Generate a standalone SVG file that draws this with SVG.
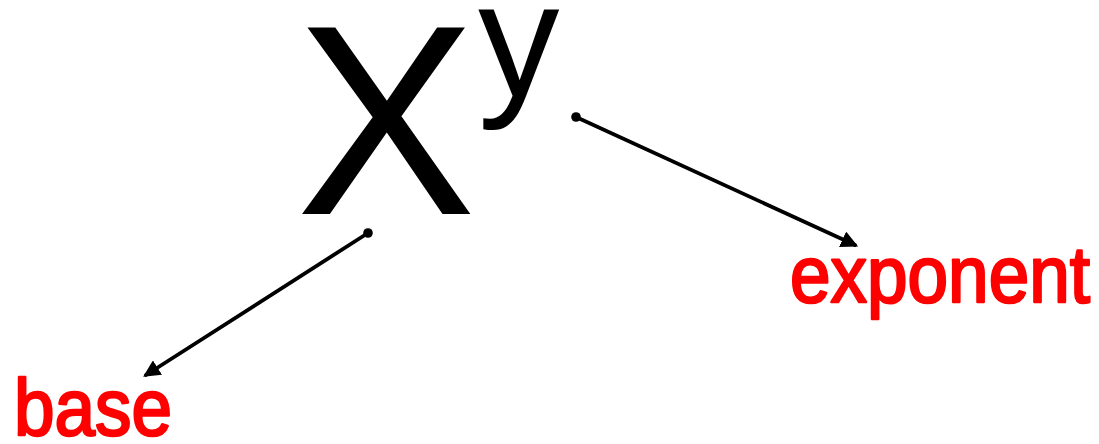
<svg xmlns="http://www.w3.org/2000/svg" width="1099" height="444" viewBox="0 0 1099 444">
<style>
.math{font-family:"Liberation Sans",Arial,sans-serif;fill:#000}
.label{font-family:"Liberation Sans",Arial,sans-serif;fill:#ff0000;stroke:#ff0000;stroke-width:2.5;stroke-linejoin:round}
.conn{stroke:#000;stroke-width:3.8;fill:none;stroke-linecap:round}
</style>
<defs>
<marker id="arrow" viewBox="0 0 10 10" refX="8" refY="5" markerWidth="4.5" markerHeight="4.5" orient="auto" markerUnits="strokeWidth">
<path d="M0,0 L10,5 L0,10 z" fill="#000"/>
</marker>
</defs>
<rect width="1099" height="444" fill="#fff"/>
<g id="node-x">
<text class="math" x="296" y="214" font-size="271" textLength="180" lengthAdjust="spacingAndGlyphs">X</text>
</g>
<g id="node-y">
<text class="math" x="478" y="96" font-size="163">y</text>
</g>
<g id="node-base">
<text class="label" x="14" y="435" font-size="80" textLength="158" lengthAdjust="spacingAndGlyphs">base</text>
</g>
<g id="node-exponent">
<text class="label" x="790" y="302" font-size="80" textLength="300" lengthAdjust="spacingAndGlyphs">exponent</text>
</g>
<g id="connectors">
<line class="conn" x1="368" y1="233" x2="146" y2="375" marker-end="url(#arrow)"/>
<circle cx="368" cy="233" r="4.8" fill="#000"/>
<line class="conn" x1="576" y1="117" x2="855" y2="245" marker-end="url(#arrow)"/>
<circle cx="576" cy="117" r="4.8" fill="#000"/>
</g>
</svg>
